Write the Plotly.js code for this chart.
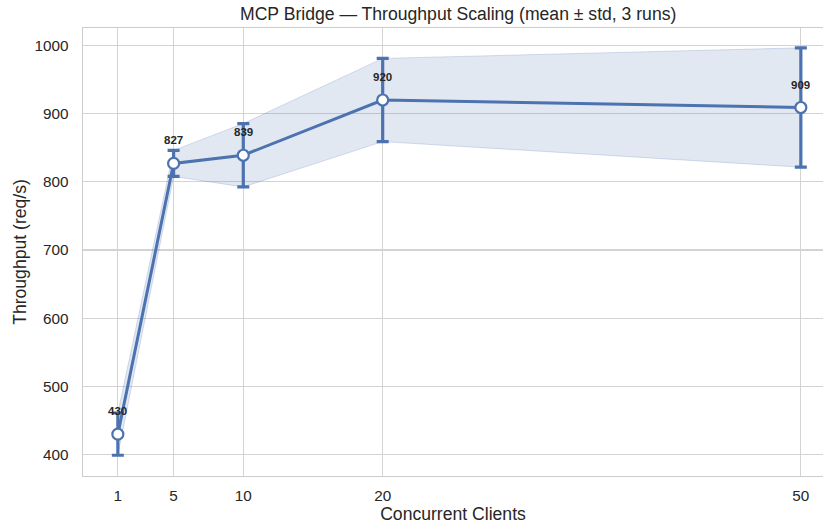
<!DOCTYPE html>
<html><head><meta charset="utf-8">
<script src="https://cdn.plot.ly/plotly-3.0.1.min.js"></script>
<style>html,body{margin:0;padding:0;background:#fff}</style>
</head><body>
<div id="chart" style="width:823px;height:526px"></div>
<script>
const clients = [1, 5, 10, 20, 50];
const meanThroughput = [430, 827, 839, 920, 909];
const stdThroughput = [31, 19, 46.5, 61, 87.5];
const tickLabels = ['1', '5', '10', '20', '50'];
const yTicks = [400, 500, 600, 700, 800, 900, 1000];

const upper = meanThroughput.map((m, i) => m + stdThroughput[i]);
const lower = meanThroughput.map((m, i) => m - stdThroughput[i]);
const blue = '#4c72b0';
const FONT = 'Liberation Sans, Arial, sans-serif';

const traces = [
  {x: clients, y: lower, mode: 'lines', line: {color: 'rgba(76,114,176,0.22)', width: 1}, hoverinfo: 'skip', showlegend: false},
  {x: clients, y: upper, mode: 'lines', fill: 'tonexty', fillcolor: 'rgba(76,114,176,0.16)', line: {color: 'rgba(76,114,176,0.22)', width: 1}, hoverinfo: 'skip', showlegend: false},
  {x: clients, y: meanThroughput, mode: 'lines+markers', showlegend: false,
   line: {color: blue, width: 3},
   marker: {size: 11, color: '#ffffff', line: {color: blue, width: 2.2}},
   error_y: {type: 'data', array: stdThroughput, visible: true, color: blue, thickness: 3.2, width: 6}}
];

const annotations = clients.map((c, i) => ({
  x: c, y: meanThroughput[i], xref: 'x', yref: 'y', text: '<b>' + meanThroughput[i] + '</b>',
  showarrow: false, yshift: 23, xanchor: 'center', yanchor: 'middle',
  font: {family: FONT, size: 11.5, color: '#262626'}
}));

const layout = {
  width: 823, height: 526,
  margin: {l: 83, r: 0, t: 28, b: 50},
  paper_bgcolor: '#fff', plot_bgcolor: '#fff',
  font: {family: FONT, color: '#262626'},
  annotations: annotations,
  title: {text: 'MCP Bridge \u2014 Throughput Scaling (mean \u00b1 std, 3 runs)', font: {family: FONT, size: 17.6, color: '#262626'},
          xref: 'paper', x: 0.507, xanchor: 'center', yref: 'container', y: 0.974, yanchor: 'middle'},
  xaxis: {
    range: [-1.5, 51.59], tickvals: clients, ticktext: tickLabels,
    showgrid: true, gridcolor: '#d3d3d3', gridwidth: 1.2, zeroline: false,
    showline: true, linecolor: '#cccccc', linewidth: 1.3, mirror: true,
    ticks: 'outside', ticklen: 5, tickcolor: 'rgba(0,0,0,0)',
    tickfont: {size: 15.3, color: '#262626'},
    title: {text: 'Concurrent Clients', font: {size: 17.6, color: '#262626'}, standoff: 2}
  },
  yaxis: {
    range: [368.6, 1025.6], tickvals: yTicks,
    showgrid: true, gridcolor: '#d3d3d3', gridwidth: 1.2, zeroline: false,
    showline: true, linecolor: '#cccccc', linewidth: 1.3, mirror: false,
    ticks: 'outside', ticklen: 10, tickcolor: 'rgba(0,0,0,0)',
    tickfont: {size: 15.3, color: '#262626'},
    title: {text: 'Throughput (req/s)', font: {size: 17.6, color: '#262626'}, standoff: 3}
  }
};
Plotly.newPlot('chart', traces, layout, {displayModeBar: false, staticPlot: true});
</script>
</body></html>
